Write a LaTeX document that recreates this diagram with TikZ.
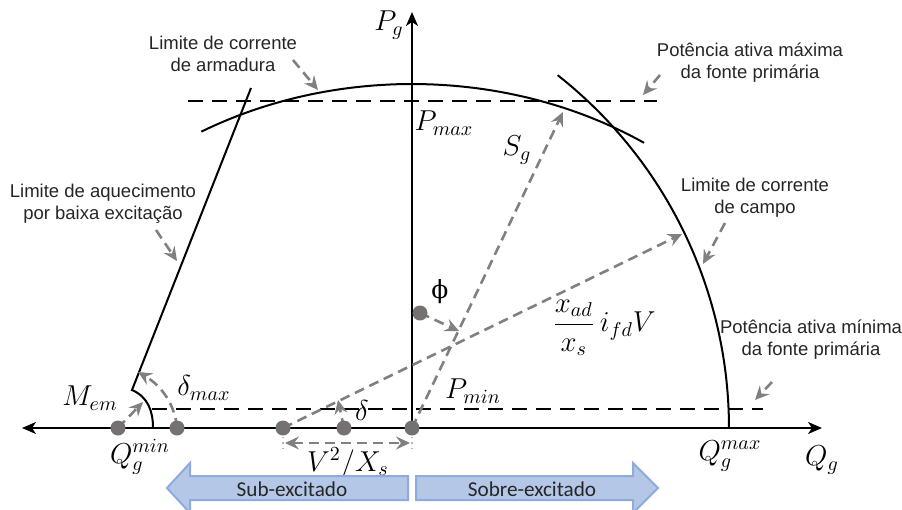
\documentclass[tikz,border=0pt]{standalone}
\usepackage{fontspec}
\setmainfont{Liberation Sans}
\newfontfamily\calfont{Carlito}
\newfontfamily\dvserif{DejaVu Serif}
\usetikzlibrary{arrows.meta}
\definecolor{dotgray}{HTML}{767171}
\definecolor{arrgray}{HTML}{808080}
\definecolor{bfill}{HTML}{B4C7E7}
\definecolor{bdraw}{HTML}{8FAADC}
\begin{document}
\begin{tikzpicture}[x=0.5pt,y=-0.5pt,
  blk/.style={line width=1pt,black},
  blkdash/.style={line width=1.1pt,black,dash pattern=on 7.5pt off 4.5pt},
  axisarrow/.style={line width=1pt,black,-{Stealth[length=7pt,width=6pt,inset=2pt]}},
  garr/.style={draw=arrgray,line width=1.3pt,dash pattern=on 5pt off 3pt,-{Stealth[length=7pt,width=6.5pt,inset=2.5pt]}},
  gdouble/.style={draw=arrgray,line width=1.3pt,dash pattern=on 5pt off 3pt,{Stealth[length=7pt,width=6.5pt,inset=2.5pt]}-{Stealth[length=7pt,width=6.5pt,inset=2.5pt]}},
  gdot/.style={draw=arrgray!60,line width=0.6pt,dotted},
  dot/.style={circle,fill=dotgray,inner sep=0pt,minimum size=7.5pt},
  lbl/.style={font=\fontsize{9.25}{11}\selectfont,align=center,inner sep=0pt,text=black!85},
  mth/.style={font=\fontsize{14.4}{17}\selectfont,inner sep=0pt},
  barrow/.style={fill=bfill,draw=bdraw,line width=1pt},
  btext/.style={font=\calfont\fontsize{10.6}{12}\selectfont,inner sep=0pt,text=black!85}]
\useasboundingbox (0,0) rectangle (902,510);
% key points
\coordinate (O) at (412,428);
\coordinate (qmin) at (118,428);
\coordinate (dmx) at (177,428);
\coordinate (vx) at (283,428);
\coordinate (dl) at (344,428);
\coordinate (ph) at (420,313);
\coordinate (axL) at (22,428);
\coordinate (axR) at (822,428);
\coordinate (axT) at (412,12);
% axes
\draw[axisarrow] (O) -- (axT);
\draw[line width=1pt,black,{Stealth[length=7pt,width=6pt,inset=2pt]}-{Stealth[length=7pt,width=6pt,inset=2pt]}] (axL) -- (axR);
% dashed power limits
\coordinate (pmaxL) at (188,101);
\coordinate (pmaxR) at (657,101);
\coordinate (pminL) at (152,409);
\coordinate (pminR) at (763,409);
\draw[blkdash] (pmaxL) -- (pmaxR);
\draw[blkdash] (pminL) -- (pminR);
% armature current limit (elliptic arc)
\draw[blk] plot[domain=56:120.5,samples=60] ({412+415*cos(\x)},{428-344*sin(\x)});
% field current limit
\draw[blk] plot[domain=0:51.8,samples=60] ({280+449*cos(\x)},{428-449*sin(\x)});
% under-excitation limit
\coordinate (ueT) at (251,88);
\coordinate (ueB) at (132,390);
\coordinate (memE) at (153,428);
\draw[blk] (ueT) -- (ueB) .. controls (148,397) and (153,411) .. (memE);
% vectors
\coordinate (sgtip) at (563,112);
\coordinate (iftip) at (682,234);
\draw[garr] (O) -- (sgtip);
\draw[garr] (vx) -- (iftip);
\coordinate (phtip) at (459,331);
\draw[garr] (ph) -- (phtip);
\coordinate (dltip) at (338,400);
\draw[garr] (dl) -- (dltip);
\coordinate (memtip) at (143,402);
\draw[garr] (qmin) -- (memtip);
\coordinate (dmxtip) at (138,372);
\draw[garr] (dmx) .. controls (175,405) and (162,386) .. (dmxtip);
% V^2/Xs
\coordinate (vl1) at (283,432);
\coordinate (vl2) at (283,452);
\coordinate (vr1) at (412,432);
\coordinate (vr2) at (412,452);
\draw[gdot] (vl1) -- (vl2);
\draw[gdot] (vr1) -- (vr2);
\coordinate (va) at (285,443);
\coordinate (vb) at (410,443);
\draw[gdouble] (va) -- (vb);
% label pointer arrows
\coordinate (a1s) at (293,60);  \coordinate (a1e) at (318,90);
\coordinate (a2s) at (156,230); \coordinate (a2e) at (177,261);
\coordinate (a3s) at (660,75);  \coordinate (a3e) at (643,95);
\coordinate (a4s) at (725,223); \coordinate (a4e) at (703,264);
\coordinate (a5s) at (772,382); \coordinate (a5e) at (755,400);
\draw[garr] (a1s) -- (a1e);
\draw[garr] (a2s) -- (a2e);
\draw[garr] (a3s) -- (a3e);
\draw[garr] (a4s) -- (a4e);
\draw[garr] (a5s) -- (a5e);
% dots
\node[dot] (nO) at (O) {};
\node[dot] (nqmin) at (qmin) {};
\node[dot] (ndmx) at (dmx) {};
\node[dot] (nvx) at (vx) {};
\node[dot] (ndl) at (dl) {};
\node[dot] (nph) at (ph) {};
% math labels
\node[mth] (lPg) at (389,25) {$P_g$};
\node[mth] (lPmax) at (444,123) {$P_{max}$};
\node[mth] (lSg) at (517,150) {$S_g$};
\node[mth,font=\dvserif\fontsize{12.5}{14}\selectfont] (lphi) at (440,292) {ϕ};
\node[mth] (lfrac) at (604,328) {$\displaystyle\frac{x_{ad}}{x_s}\,i_{fd}V$};
\node[mth] (lPmin) at (473,391) {$P_{min}$};
\node[mth] (ldelta) at (362,410) {$\delta$};
\node[mth] (ldmax) at (204,388) {$\delta_{max}$};
\node[mth] (lMem) at (90,398) {$M_{em}$};
\node[mth] (lQmin) at (140,457) {$Q_g^{min}$};
\node[mth] (lV) at (348,463) {$V^2/X_s$};
\node[mth] (lQmax) at (730,456) {$Q_g^{max}$};
\node[mth] (lQg) at (822,460) {$Q_g$};
% text labels
\node[lbl] (tArm) at (223,54) {Limite de corrente\\de armadura};
\node[lbl] (tUe) at (103,204) {Limite de aquecimento\\por baixa excitação};
\node[lbl] (tPmax) at (750,63) {Potência ativa máxima\\da fonte primária};
\node[lbl] (tField) at (755,198) {Limite de corrente\\de campo};
\node[lbl] (tPmin) at (811,340) {Potência ativa mínima\\da fonte primária};
% blue arrows
\draw[barrow] (408,476) -- (190,476) -- (190,463) -- (167,488) -- (190,513) -- (190,500) -- (408,500) -- cycle;
\draw[barrow] (416,476) -- (633,476) -- (633,463) -- (658,488) -- (633,513) -- (633,500) -- (416,500) -- cycle;
\node[btext] (tSub) at (292,489) {Sub-excitado};
\node[btext] (tSob) at (532,489) {Sobre-excitado};
\end{tikzpicture}
\end{document}
